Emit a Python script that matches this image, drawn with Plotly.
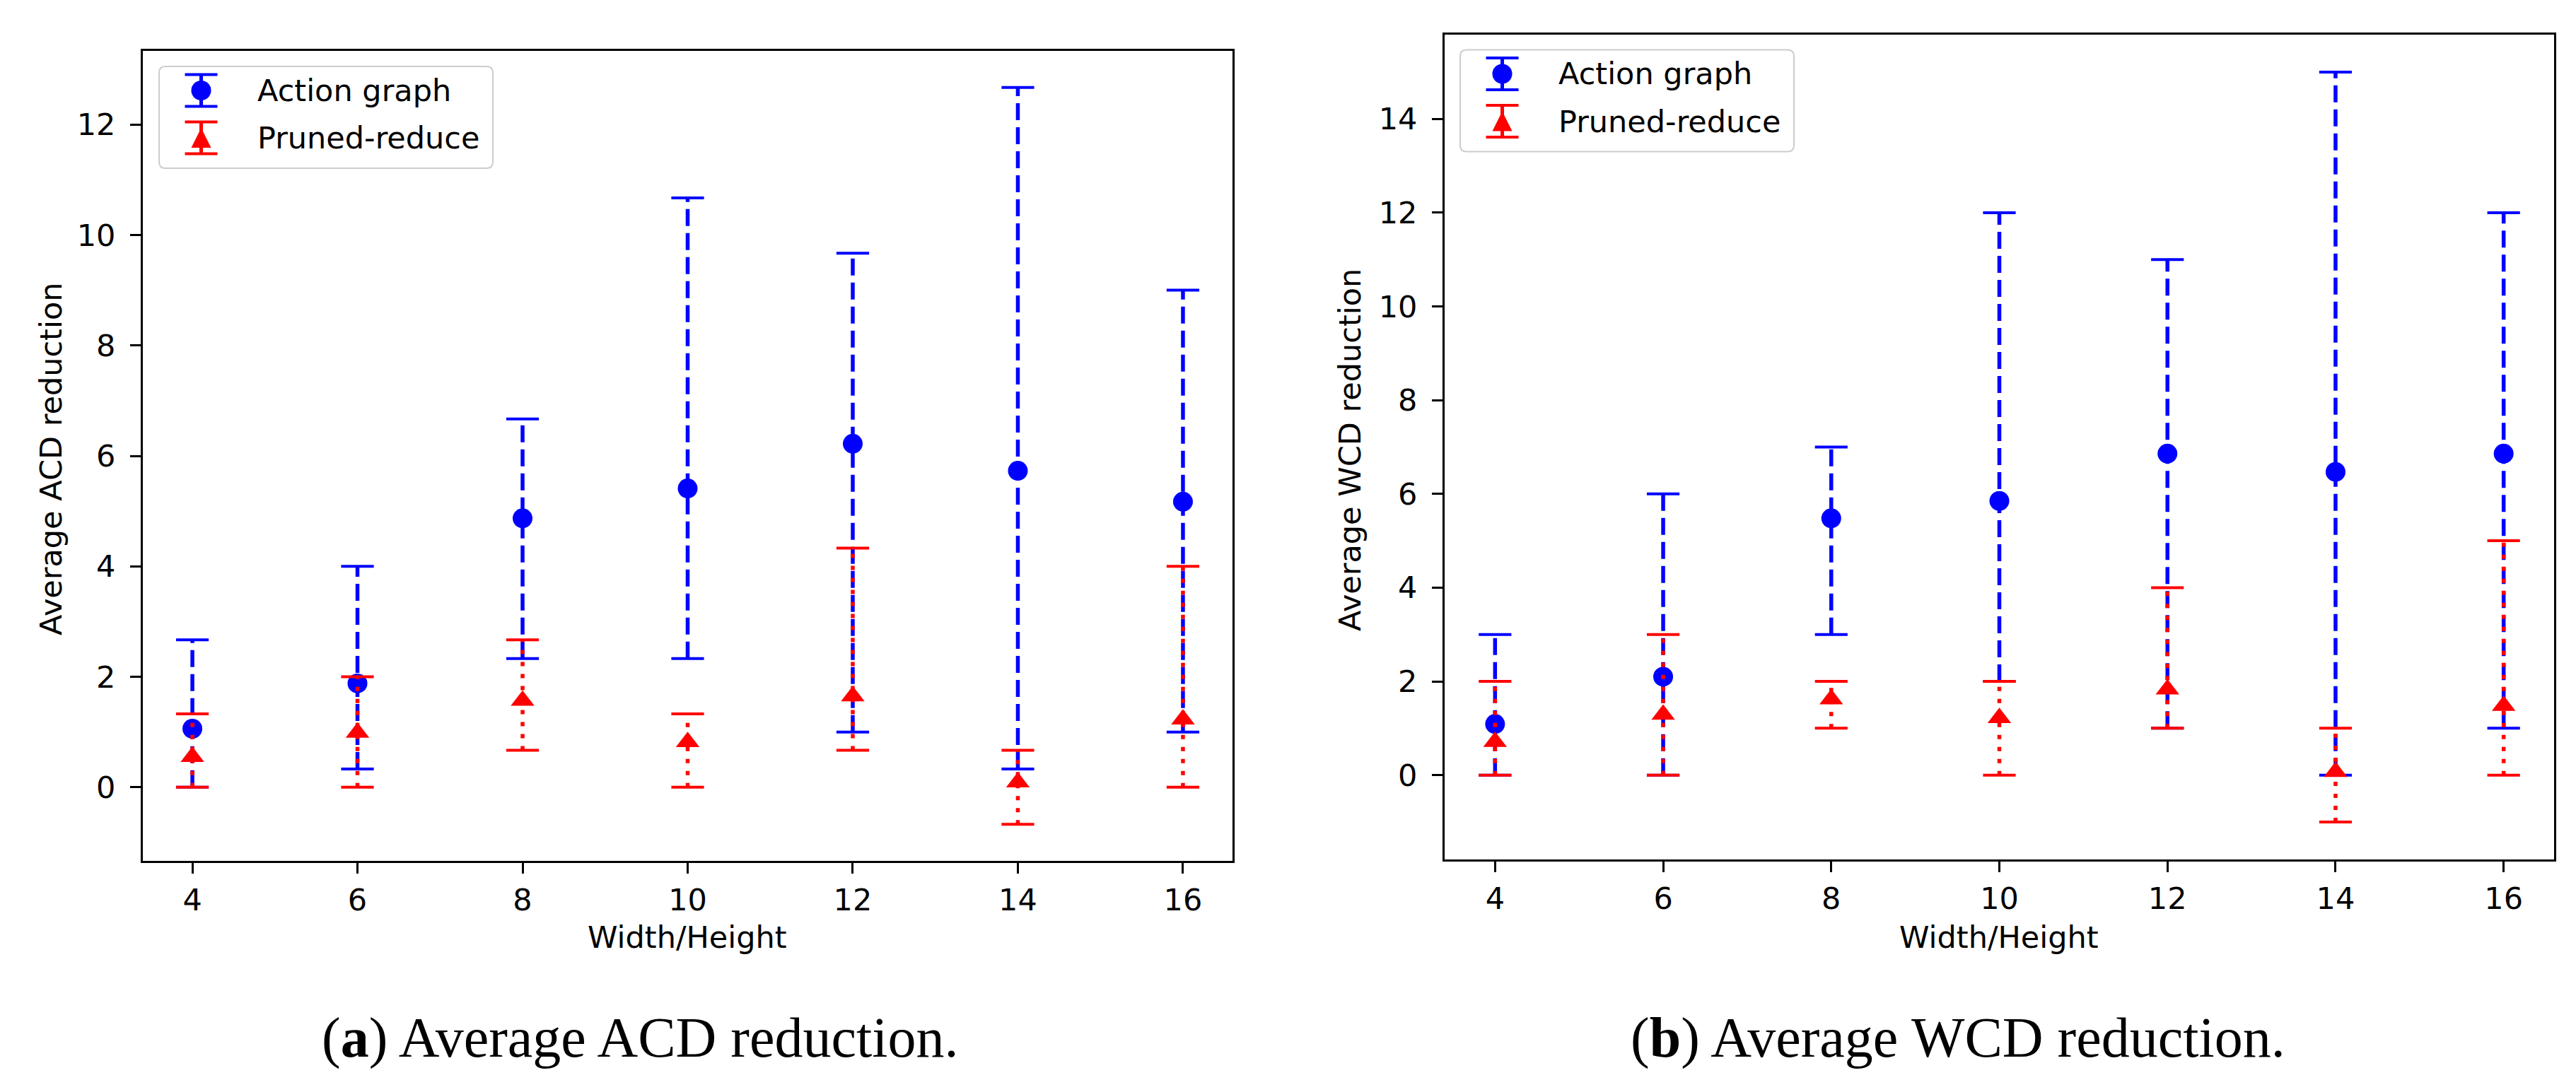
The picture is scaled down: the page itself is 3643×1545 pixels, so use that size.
import plotly.graph_objects as go

# =============================================================================
# DATA
# =============================================================================

sizes = [4, 6, 8, 10, 12, 14, 16]

# (a) Average ACD reduction
acd_action_mean = [1.06, 1.88, 4.87, 5.41, 6.22, 5.73, 5.17]
acd_action_low = [0.0, 0.33, 2.33, 2.33, 1.0, 0.33, 1.0]
acd_action_high = [2.67, 4.0, 6.67, 10.67, 9.67, 12.67, 9.0]

acd_pruned_mean = [0.55, 0.99, 1.57, 0.82, 1.65, 0.09, 1.23]
acd_pruned_low = [0.0, 0.0, 0.67, 0.0, 0.67, -0.67, 0.0]
acd_pruned_high = [1.33, 2.0, 2.67, 1.33, 4.33, 0.67, 4.0]

# (b) Average WCD reduction
wcd_action_mean = [1.09, 2.10, 5.48, 5.85, 6.86, 6.47, 6.86]
wcd_action_low = [0, 0, 3, 2, 1, 0, 1]
wcd_action_high = [3, 6, 7, 12, 11, 15, 12]

wcd_pruned_mean = [0.71, 1.29, 1.62, 1.22, 1.83, 0.07, 1.48]
wcd_pruned_low = [0, 0, 1, 0, 1, -1, 0]
wcd_pruned_high = [2, 3, 2, 2, 4, 1, 5]

series_names = ["Action graph", "Pruned-reduce"]
y_titles = ["Average ACD reduction", "Average WCD reduction"]
x_title = "Width/Height"
captions = ["(<b>a</b>) Average ACD reduction.", "(<b>b</b>) Average WCD reduction."]

# =============================================================================
# STYLE
# =============================================================================

W, H = 3643, 1545
BLUE = "#0000ff"
RED = "#ff0000"
FONT = "DejaVu Sans"
FS = 43


def px(p):
    return p / W


def py(p):
    return 1 - p / H


def bar_segments(xs, lo, hi):
    x, y = [], []
    for xi, l, h in zip(xs, lo, hi):
        x += [xi, xi, None]
        y += [l, h, None]
    return x, y


def add_series(fig, xs, mean, lo, hi, color, dash, symbol, msize, axis):
    xa, ya = ("x", "y") if axis == 1 else ("x2", "y2")
    sx, sy = bar_segments(xs, lo, hi)
    fig.add_trace(go.Scatter(x=sx, y=sy, mode="lines", xaxis=xa, yaxis=ya,
                             line=dict(color=color, width=5.5, dash=dash),
                             showlegend=False, hoverinfo="skip"))
    fig.add_trace(go.Scatter(x=xs + xs, y=lo + hi, mode="markers", xaxis=xa, yaxis=ya,
                             marker=dict(symbol="line-ew", size=33,
                                         line=dict(color=color, width=4)),
                             showlegend=False, hoverinfo="skip"))
    fig.add_trace(go.Scatter(x=xs, y=mean, mode="markers", xaxis=xa, yaxis=ya,
                             marker=dict(symbol=symbol, size=msize, color=color,
                                         line=dict(width=0)),
                             showlegend=False))


def add_legend(fig, left, top):
    # matplotlib-like legend box with errorbar keys
    w, h, r = 472, 144, 9
    rr = left + w
    bb = top + h
    path = (f"M {px(left + r)},{py(top)} L {px(rr - r)},{py(top)} "
            f"Q {px(rr)},{py(top)} {px(rr)},{py(top + r)} "
            f"L {px(rr)},{py(bb - r)} Q {px(rr)},{py(bb)} {px(rr - r)},{py(bb)} "
            f"L {px(left + r)},{py(bb)} Q {px(left)},{py(bb)} {px(left)},{py(bb - r)} "
            f"L {px(left)},{py(top + r)} Q {px(left)},{py(top)} {px(left + r)},{py(top)} Z")
    fig.add_shape(type="path", path=path, xref="paper", yref="paper",
                  fillcolor="rgba(255,255,255,0.8)", line=dict(color="#cccccc", width=2))
    cx = left + 59.5
    for i, (name, color) in enumerate(zip(series_names, [BLUE, RED])):
        cy = top + 34 + i * 67
        fig.add_shape(type="line", xref="paper", yref="paper",
                      x0=px(cx), x1=px(cx), y0=py(cy - 22.5), y1=py(cy + 22.5),
                      line=dict(color=color, width=5))
        for d in (-22.5, 22.5):
            fig.add_shape(type="line", xref="paper", yref="paper",
                          x0=px(cx - 23), x1=px(cx + 23), y0=py(cy + d), y1=py(cy + d),
                          line=dict(color=color, width=4))
        if i == 0:
            fig.add_shape(type="circle", xref="paper", yref="paper",
                          x0=px(cx - 14), x1=px(cx + 14), y0=py(cy + 14), y1=py(cy - 14),
                          fillcolor=color, line=dict(width=0))
        else:
            tri = (f"M {px(cx - 14)},{py(cy + 14)} L {px(cx + 14)},{py(cy + 14)} "
                   f"L {px(cx)},{py(cy - 14)} Z")
            fig.add_shape(type="path", path=tri, xref="paper", yref="paper",
                          fillcolor=color, line=dict(width=0))
        fig.add_annotation(x=px(left + 137), y=py(cy), xref="paper", yref="paper",
                           text=name, showarrow=False, xanchor="left", yanchor="middle",
                           font=dict(family=FONT, size=FS, color="black"))


# =============================================================================
# FIGURE
# =============================================================================

fig = go.Figure()

add_series(fig, sizes, acd_action_mean, acd_action_low, acd_action_high,
           BLUE, "24px,10px", "circle", 28, 1)
add_series(fig, sizes, acd_pruned_mean, acd_pruned_low, acd_pruned_high,
           RED, "6px,11px", "triangle-up", 29, 1)
add_series(fig, sizes, wcd_action_mean, wcd_action_low, wcd_action_high,
           BLUE, "24px,10px", "circle", 28, 2)
add_series(fig, sizes, wcd_pruned_mean, wcd_pruned_low, wcd_pruned_high,
           RED, "6px,11px", "triangle-up", 29, 2)

axis_style = dict(showline=True, mirror=True, linecolor="black", linewidth=3,
                  ticks="outside", ticklen=15, tickwidth=3, tickcolor="black",
                  showgrid=False, zeroline=False,
                  tickfont=dict(family=FONT, size=FS, color="black"))

fig.update_layout(
    width=W, height=H,
    margin=dict(l=0, r=0, t=0, b=0),
    paper_bgcolor="white", plot_bgcolor="white",
    showlegend=False,
    xaxis=dict(domain=[px(194), px(1735)], range=[3.4, 16.6], dtick=2, tick0=0,
               anchor="y", **axis_style),
    yaxis=dict(domain=[py(1210), py(64)], range=[-1.333, 13.333], dtick=2, tick0=0,
               anchor="x", ticklabelstandoff=12, **axis_style),
    xaxis2=dict(domain=[px(2035), px(3604)], range=[3.4, 16.6], dtick=2, tick0=0,
                anchor="y2", **axis_style),
    yaxis2=dict(domain=[py(1208), py(41)], range=[-1.8, 15.8], dtick=2, tick0=0,
                anchor="x2", ticklabelstandoff=12, **axis_style),
)

# axis titles
for xc, yc, t in [(64, 642, y_titles[0]), (1901, 628, y_titles[1])]:
    fig.add_annotation(x=px(xc), y=py(yc), xref="paper", yref="paper", text=t,
                       textangle=-90, showarrow=False, xanchor="center", yanchor="middle",
                       font=dict(family=FONT, size=FS, color="black"))
for xc in [964, 2819]:
    fig.add_annotation(x=px(xc), y=py(1318), xref="paper", yref="paper", text=x_title,
                       showarrow=False, xanchor="center", yanchor="middle",
                       font=dict(family=FONT, size=FS, color="black"))

# captions
for xc, t in [(897, captions[0]), (2761, captions[1])]:
    fig.add_annotation(x=px(xc), y=py(1460), xref="paper", yref="paper", text=t,
                       showarrow=False, xanchor="center", yanchor="middle",
                       font=dict(family="Liberation Serif", size=80, color="black"))

add_legend(fig, 217, 86)
add_legend(fig, 2057, 62.5)

fig.write_html("out.html")
